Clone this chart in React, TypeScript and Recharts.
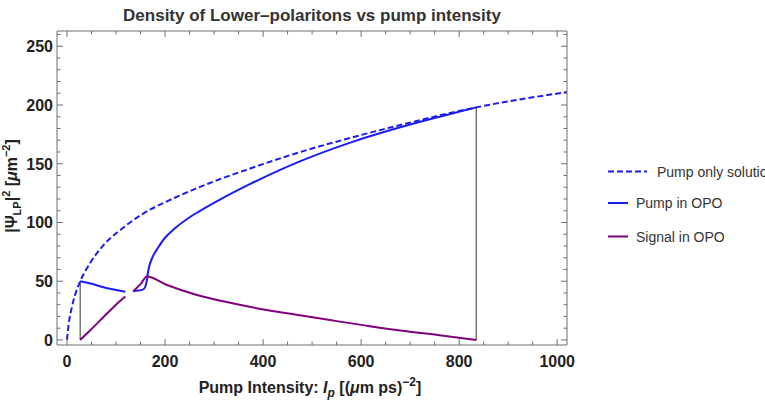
import { LineChart, Line, XAxis, YAxis, Legend } from "recharts";

// values (x = pump intensity, y = |Psi_LP|^2)
const pumpOnlyPts: [number, number][] = [
  [0, 0], [3, 12], [10, 28], [17, 39], [27, 50], [48, 66], [75, 81], [116, 96],
  [157, 108], [204, 118], [258, 128], [300, 135], [374, 146], [476, 160],
  [578, 172], [680, 183], [835, 198], [1020, 211],
];

const pumpOpoPts: [number, number | null][] = [
  [27, 50], [48, 48], [82, 44], [100, 42.5], [119, 41],
  [127, null],
  [135, 41.5], [145, 42], [153, 42.6], [158, 44], [161, 47], [163, 51], [165, 57],
  [168, 63], [175, 71], [185, 78], [200, 87], [220, 95], [245, 103], [270, 109.5],
  [310, 119], [375, 133], [475, 152], [578, 168], [680, 181], [760, 190], [835, 198],
];

const signalOpoPts: [number, number | null][] = [
  [27, 0], [48, 8.5], [82, 22.7], [100, 30], [119, 37],
  [127, null],
  [135, 41.5], [150, 47.5], [163, 54], [204, 46.8], [265, 38.3], [340, 31],
  [407, 25.5], [475, 21], [543, 16.5], [610, 12.2], [680, 8], [760, 4], [835, 0],
];

const thresholdPts: [number, number | null][] = [
  [27, 0], [27, 50], [400, null], [835, 198], [835, 0],
];

const xTicks = [0, 50, 100, 150, 200, 250, 300, 350, 400, 450, 500, 550, 600, 650, 700, 750, 800, 850, 900, 950, 1000];
const yTicks = [0, 10, 20, 30, 40, 50, 60, 70, 80, 90, 100, 110, 120, 130, 140, 150, 160, 170, 180, 190, 200, 210, 220, 230, 240, 250, 260];

const seriesNames = ["Pump only solution", "Pump in OPO", "Signal in OPO"];

const toRows = (pts: [number, number | null][]) => pts.map(([x, y]) => ({ x, y }));

const FONT = "'Liberation Sans', Arial, sans-serif";
const FRAME = "#6e6e6e";
const BLUE = "#1c1cf0";
const PURPLE = "#800080";
const TEXT = "#222";

const BottomTick = (props: any) => {
  const { x, y, payload } = props;
  const major = payload.value % 200 === 0;
  return (
    <g>
      <line x1={x} x2={x} y1={y} y2={y - (major ? 6 : 3.5)} stroke={FRAME} />
      {major && (
        <text x={x} y={y + 22} textAnchor="middle" fontFamily={FONT} fontSize={16} fontWeight="bold" fill={TEXT}>
          {payload.value}
        </text>
      )}
    </g>
  );
};

const TopTick = (props: any) => {
  const { x, y, payload } = props;
  const major = payload.value % 200 === 0;
  return <line x1={x} x2={x} y1={y} y2={y + (major ? 6 : 3.5)} stroke={FRAME} />;
};

const LeftTick = (props: any) => {
  const { x, y, payload } = props;
  const major = payload.value % 50 === 0;
  return (
    <g>
      <line x1={x} x2={x + (major ? 6 : 3.5)} y1={y} y2={y} stroke={FRAME} />
      {major && (
        <text x={x - 4} y={y + 6} textAnchor="end" fontFamily={FONT} fontSize={16} fontWeight="bold" fill={TEXT}>
          {payload.value}
        </text>
      )}
    </g>
  );
};

const RightTick = (props: any) => {
  const { x, y, payload } = props;
  const major = payload.value % 50 === 0;
  return <line x1={x} x2={x - (major ? 6 : 3.5)} y1={y} y2={y} stroke={FRAME} />;
};

const TitleLabel = () => (
  <text x={312} y={21} textAnchor="middle" fontFamily={FONT} fontSize={17} fontWeight="bold" fill="#333">
    Density of Lower–polaritons vs pump intensity
  </text>
);

const XLabel = () => (
  <text x={310} y={393} textAnchor="middle" fontFamily={FONT} fontSize={16} fontWeight="bold" fill={TEXT}>
    Pump Intensity:{" "}
    <tspan fontStyle="italic">I</tspan>
    <tspan fontStyle="italic" fontSize={12} dy={4}>p</tspan>
    <tspan dy={-4}> [(</tspan>
    <tspan fontStyle="italic">μ</tspan>
    <tspan>m ps)</tspan>
    <tspan fontSize={12} dy={-7}>−2</tspan>
    <tspan dy={7}>]</tspan>
  </text>
);

const YLabel = () => (
  <text
    x={17}
    y={186}
    transform="rotate(-90 17 186)"
    textAnchor="middle"
    fontFamily={FONT}
    fontSize={16}
    fontWeight="bold"
    fill={TEXT}
  >
    |Ψ
    <tspan fontSize={11} dy={4}>LP</tspan>
    <tspan dy={-4}>|</tspan>
    <tspan fontSize={11} dy={-7}>2</tspan>
    <tspan dy={7}> [</tspan>
    <tspan fontStyle="italic">μ</tspan>
    <tspan>m</tspan>
    <tspan fontSize={11} dy={-7}>−2</tspan>
    <tspan dy={7}>]</tspan>
  </text>
);

const legendRows: Record<string, { y: number; len: number; tx: number }> = {
  "Pump only solution": { y: 16.5, len: 39, tx: 49 },
  "Pump in OPO": { y: 48, len: 20, tx: 28 },
  "Signal in OPO": { y: 81.5, len: 20, tx: 28 },
};

const LegendBox = (props: any) => {
  const items = (props.payload || []).filter((p: any) => seriesNames.includes(p.value));
  return (
    <svg width={170} height={100} style={{ overflow: "hidden" }}>
      {items.map((it: any) => {
        const r = legendRows[it.value];
        return (
          <g key={it.value}>
            <line
              x1={0}
              x2={r.len}
              y1={r.y}
              y2={r.y}
              stroke={it.color}
              strokeWidth={2}
              strokeDasharray={it.payload?.strokeDasharray}
            />
            <text x={r.tx} y={r.y + 5} fontFamily={FONT} fontSize={14} fill="#333">
              {it.value}
            </text>
          </g>
        );
      })}
    </svg>
  );
};

export default function App() {
  return (
    <div style={{ position: "absolute", left: 0, top: 0, background: "#fff" }}>
      <LineChart width={765} height={404} margin={{ top: 30, right: 197, bottom: 0, left: 0 }}>
        <XAxis
          xAxisId="b"
          type="number"
          dataKey="x"
          domain={[-20.4, 1020]}
          allowDataOverflow
          ticks={xTicks}
          interval={0}
          height={59}
          tickSize={0}
          tickMargin={0}
          tickLine={false}
          axisLine={{ stroke: FRAME }}
          tick={<BottomTick />}
          label={<XLabel />}
        />
        <XAxis
          xAxisId="t"
          orientation="top"
          type="number"
          dataKey="x"
          domain={[-20.4, 1020]}
          allowDataOverflow
          ticks={xTicks}
          interval={0}
          height={1}
          tickSize={0}
          tickMargin={0}
          tickLine={false}
          axisLine={{ stroke: FRAME }}
          tick={<TopTick />}
          label={<TitleLabel />}
        />
        <YAxis
          yAxisId="l"
          type="number"
          domain={[-4.3, 263]}
          allowDataOverflow
          ticks={yTicks}
          interval={0}
          width={57}
          tickSize={0}
          tickMargin={0}
          tickLine={false}
          axisLine={{ stroke: FRAME }}
          tick={<LeftTick />}
          label={<YLabel />}
        />
        <YAxis
          yAxisId="r"
          orientation="right"
          type="number"
          domain={[-4.3, 263]}
          allowDataOverflow
          ticks={yTicks}
          interval={0}
          width={1}
          tickSize={0}
          tickMargin={0}
          tickLine={false}
          axisLine={{ stroke: FRAME }}
          tick={<RightTick />}
        />
        <Line
          xAxisId="t"
          yAxisId="r"
          data={toRows(thresholdPts)}
          dataKey="y"
          type="linear"
          stroke="#777"
          strokeWidth={1.5}
          dot={false}
          activeDot={false}
          legendType="none"
          isAnimationActive={false}
        />
        <Line
          xAxisId="b"
          yAxisId="l"
          name={seriesNames[0]}
          data={toRows(pumpOnlyPts)}
          dataKey="y"
          type="monotone"
          stroke={BLUE}
          strokeWidth={2}
          strokeDasharray="6 3"
          dot={false}
          activeDot={false}
          isAnimationActive={false}
        />
        <Line
          xAxisId="b"
          yAxisId="l"
          name={seriesNames[1]}
          data={toRows(pumpOpoPts)}
          dataKey="y"
          type="monotone"
          stroke={BLUE}
          strokeWidth={2}
          dot={false}
          activeDot={false}
          isAnimationActive={false}
        />
        <Line
          xAxisId="b"
          yAxisId="l"
          name={seriesNames[2]}
          data={toRows(signalOpoPts)}
          dataKey="y"
          type="monotone"
          stroke={PURPLE}
          strokeWidth={2}
          dot={false}
          activeDot={false}
          isAnimationActive={false}
        />
        <Legend
          layout="vertical"
          align="center"
          verticalAlign="middle"
          content={<LegendBox />}
          wrapperStyle={{ left: 608, top: 155, width: 170, height: 100 }}
        />
      </LineChart>
    </div>
  );
}
